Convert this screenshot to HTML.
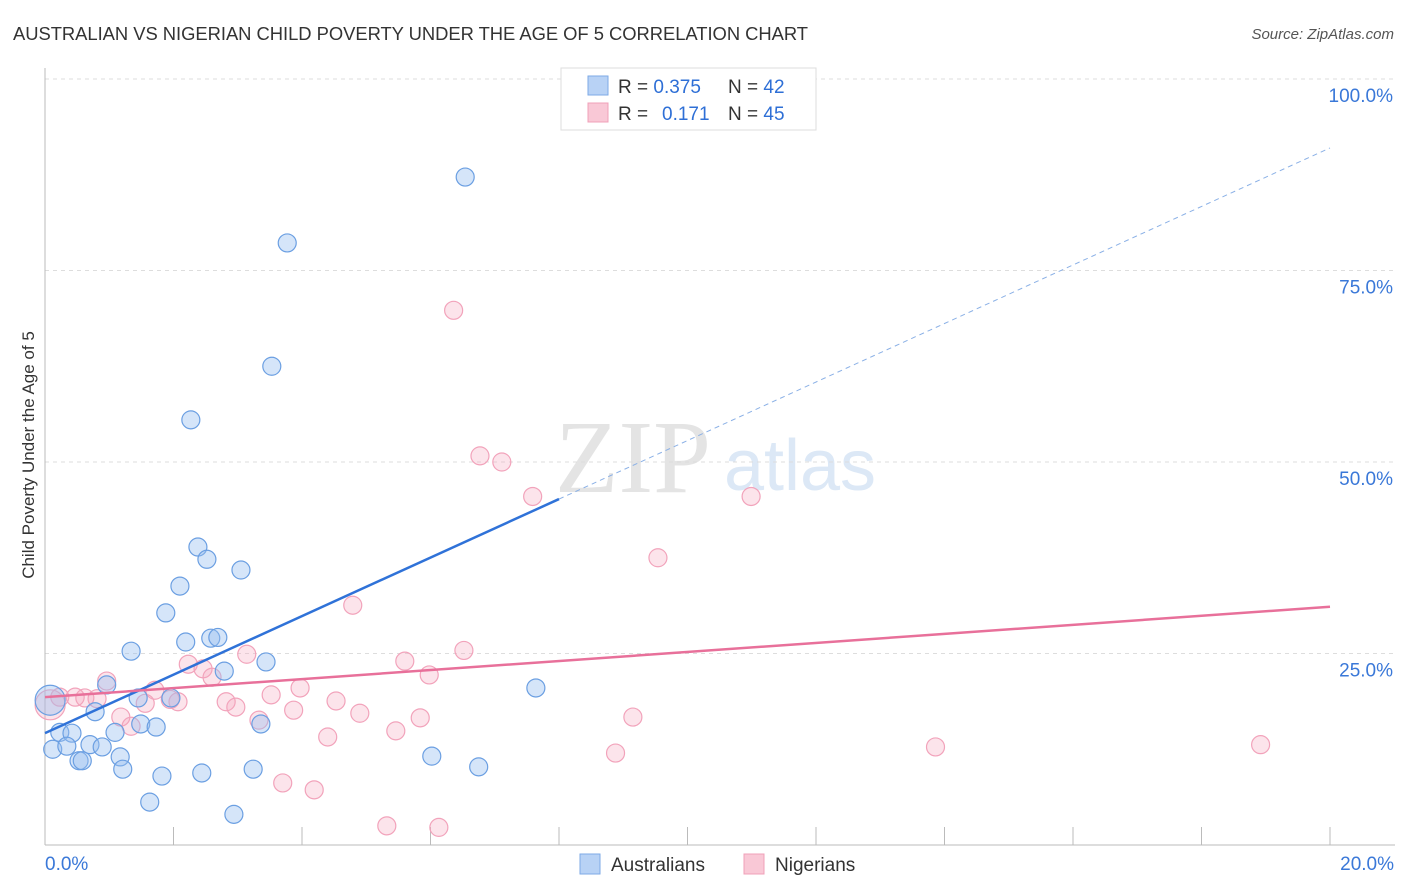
<!DOCTYPE html>
<html><head><meta charset="utf-8"><style>
body{margin:0;background:#fff;font-family:"Liberation Sans",sans-serif}
svg{display:block}
</style></head><body>
<svg width="1406" height="892" viewBox="0 0 1406 892">
<text x="13" y="40" font-size="18.4" fill="#333" textLength="795">AUSTRALIAN VS NIGERIAN CHILD POVERTY UNDER THE AGE OF 5 CORRELATION CHART</text>
<text x="1394" y="39" font-size="15" fill="#555" font-style="italic" text-anchor="end">Source: ZipAtlas.com</text>
<g>
<text x="633" y="492" font-size="104" font-family="Liberation Serif,serif" fill="#e4e4e4" text-anchor="middle">ZIP</text>
<text x="800" y="490" font-size="72" fill="#dce8f6" text-anchor="middle">atlas</text>
</g>
<g id="grid"></g>
<g id="axes"></g>
<g id="marks"></g>
<text transform="translate(34,455) rotate(-90)" font-size="17" fill="#333" text-anchor="middle">Child Poverty Under the Age of 5</text>
<g>
<rect x="561" y="68" width="255" height="62" fill="#fff" stroke="#ddd"/>
<rect x="588" y="76" width="20" height="19" fill="#b8d2f5" stroke="#7eaae6"/>
<text x="618" y="93" font-size="19" fill="#333">R = <tspan fill="#2e6fd6">0.375</tspan><tspan x="728">N = </tspan><tspan fill="#2e6fd6">42</tspan></text>
<rect x="588" y="103" width="20" height="19" fill="#f9c8d6" stroke="#f0a0b8"/>
<text x="618" y="120" font-size="19" fill="#333">R = <tspan x="662" fill="#2e6fd6">0.171</tspan><tspan x="728">N = </tspan><tspan fill="#2e6fd6">45</tspan></text>
</g>
<g>
<rect x="580" y="854" width="20" height="20" fill="#b8d2f5" stroke="#7eaae6"/>
<text x="611" y="871" font-size="19" fill="#333">Australians</text>
<rect x="744" y="854" width="20" height="20" fill="#f9c8d6" stroke="#f0a0b8"/>
<text x="775" y="871" font-size="19" fill="#333">Nigerians</text>
</g>
</svg>
<script>
const ausX=[6.54,3.77,3.53,2.27,2.38,2.52,3.05,2.10,1.88,2.19,2.58,2.69,1.34,3.44,2.79,0.96,1.45,1.96,7.64,0.78,3.36,1.49,1.73,1.09,0.23,0.42,0.12,0.34,0.70,0.89,0.53,0.58,1.17,1.21,3.24,6.02,6.75,1.82,2.44,1.63,2.94,0.08];
const ausY=[87.2,78.6,62.5,55.5,38.9,37.3,35.9,33.8,30.3,26.5,27.0,27.1,25.3,23.9,22.7,20.9,19.2,19.2,20.5,17.4,15.8,15.8,15.4,14.7,14.7,14.6,12.5,12.9,13.1,12.8,11.0,11.0,11.5,9.9,9.9,11.6,10.2,9.0,9.4,5.6,4.0,18.9];
const nigX=[6.36,6.77,7.11,7.59,10.99,9.54,4.79,6.52,3.14,5.60,2.23,2.46,5.98,2.60,0.96,3.97,1.71,3.52,0.23,0.47,0.62,0.81,2.07,1.56,4.53,2.82,2.97,3.87,4.90,1.18,5.84,9.15,3.33,1.34,5.46,4.40,8.88,13.86,18.92,3.70,4.19,5.32,6.13,0.08,1.95];
const nigY=[69.8,50.8,50.0,45.5,45.5,37.5,31.3,25.4,24.9,24.0,23.6,23.0,22.2,21.9,21.4,20.5,20.2,19.6,19.3,19.3,19.2,19.1,18.7,18.5,18.8,18.7,18.0,17.6,17.2,16.7,16.6,16.7,16.3,15.5,14.9,14.1,12.0,12.8,13.1,8.1,7.2,2.5,2.3,18.3,19.0];
const ausLine=[14.6,91.0], ausSolidEnd=8.0, nigLine=[19.3,31.1];
const yTicks=[25,50,75,100];
const xTicks=[0,2,4,6,8,10,12,14,16,18,20];
const NS='http://www.w3.org/2000/svg';
const sx=v=>45+v/20*1285, sy=v=>845-v/100*766;
function mk(tag,attrs,parent){const e=document.createElementNS(NS,tag);for(const k in attrs)e.setAttribute(k,attrs[k]);document.getElementById(parent).appendChild(e);return e;}
yTicks.forEach(t=>{
 const g=mk('line',{x1:45,x2:1395,y1:sy(t),y2:sy(t),stroke:'#ddd','stroke-dasharray':'4,4'},'grid');
 
 
 const l=mk('text',{x:1393,y:sy(t)+23,'font-size':19,fill:'#3a78d8','text-anchor':'end'},'grid');
 l.textContent=t.toFixed(1)+'%';
 
 
});
let a=mk('line',{x1:45,x2:45,y1:68,y2:845,stroke:'#bbb'},'axes');


a=mk('line',{x1:45,x2:1395,y1:845,y2:845,stroke:'#bbb'},'axes');


xTicks.forEach(t=>{const e=mk('line',{x1:sx(t),x2:sx(t),y1:827,y2:845,stroke:'#bbb'},'axes');
 
 });
[[0,'0.0%','start',45],[20,'20.0%','end',1394]].forEach(([v,s,an,x])=>{const e=mk('text',{x:x,y:870,'font-size':19,fill:'#3a78d8','text-anchor':an},'axes');e.textContent=s;
 
 });
function dot(x,y,big,cls){
 const r=big?15:9;
 const c=mk('circle',{cx:sx(x),cy:sy(y),r:r,fill:cls?'rgba(150,190,240,0.4)':'rgba(245,165,190,0.3)',stroke:cls?'#6b9fe2':'#f2a3bb','stroke-width':1.2},'marks');
 
 
}
nigX.forEach((x,i)=>dot(x,nigY[i],i===43,false));
ausX.forEach((x,i)=>dot(x,ausY[i],i===41,true));
const ay=x=>ausLine[0]+(ausLine[1]-ausLine[0])*x/20;
let l=mk('line',{x1:sx(0),y1:sy(ay(0)),x2:sx(ausSolidEnd),y2:sy(ay(ausSolidEnd)),stroke:'#2f72d8','stroke-width':2.5},'marks');


l=mk('line',{x1:sx(ausSolidEnd),y1:sy(ay(ausSolidEnd)),x2:sx(20),y2:sy(ay(20)),stroke:'#8ab0e6','stroke-width':1,'stroke-dasharray':'5,4'},'marks');


l=mk('line',{x1:sx(0),y1:sy(nigLine[0]),x2:sx(20),y2:sy(nigLine[1]),stroke:'#e8709a','stroke-width':2.5},'marks');


</script>
</body></html>
